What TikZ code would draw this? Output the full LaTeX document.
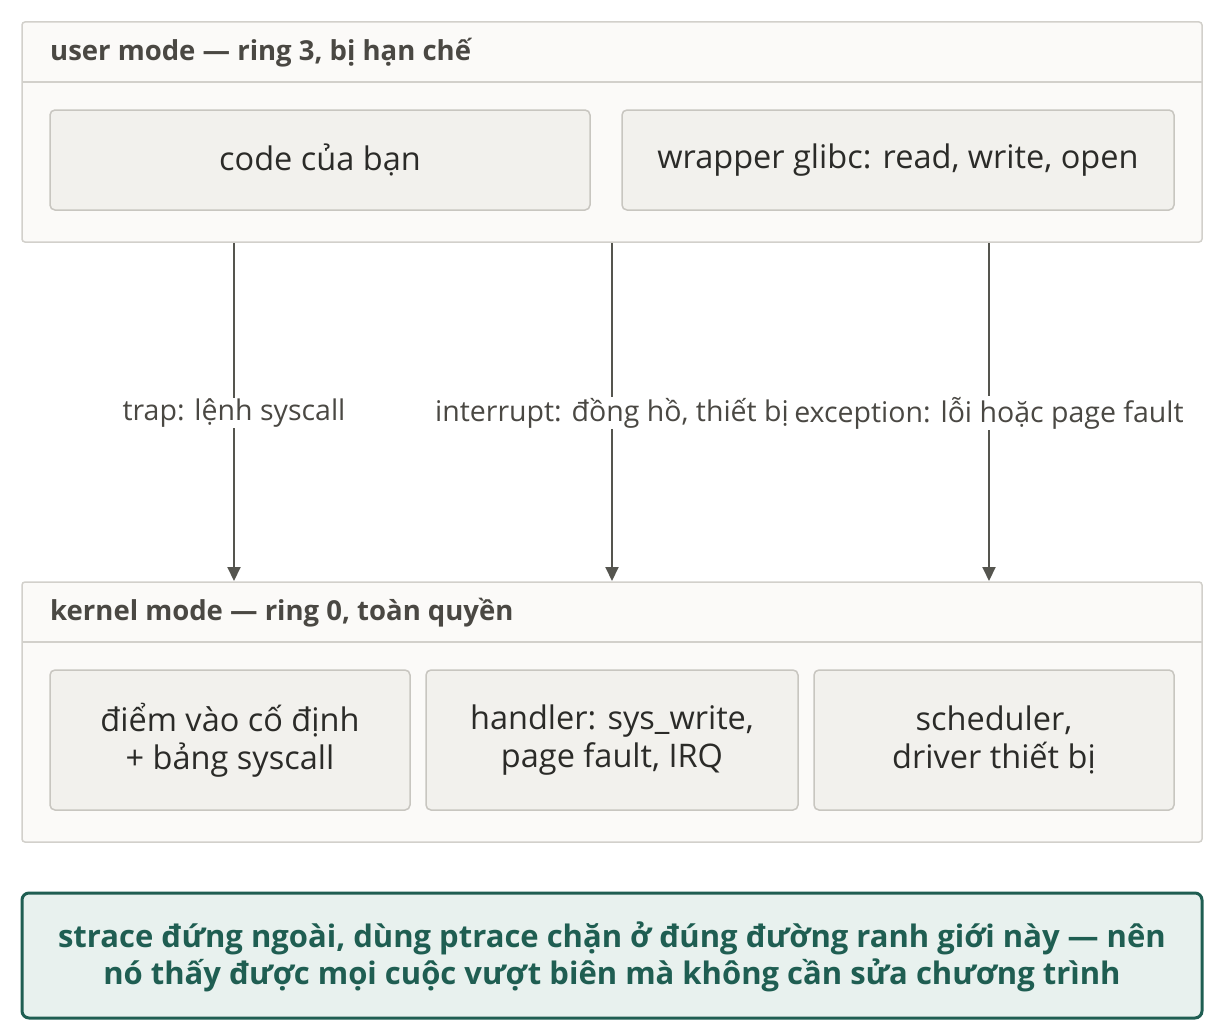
\documentclass[tikz,border=0pt]{standalone}
\usepackage{fontspec}
\setmainfont{Open Sans}
\usetikzlibrary{arrows.meta}
\definecolor{outerfill}{HTML}{FBFAF8}
\definecolor{outerdraw}{HTML}{D2D0CB}
\definecolor{innerfill}{HTML}{F2F1ED}
\definecolor{innerdraw}{HTML}{C8C6C0}
\definecolor{txt}{HTML}{2B2B28}
\definecolor{hdr}{HTML}{4A4843}
\definecolor{arr}{HTML}{55554F}
\definecolor{notefill}{HTML}{E8F1EE}
\definecolor{notedraw}{HTML}{1F5E52}
\begin{document}
\begin{tikzpicture}[x=1pt,y=-1pt,
  outer/.style={draw=outerdraw,fill=outerfill,line width=1.5pt,rounded corners=3pt},
  inner/.style={draw=innerdraw,fill=innerfill,line width=1.5pt,rounded corners=5pt,
    font=\fontsize{32.5}{38}\selectfont,text=txt,align=center},
  big/.style={font=\fontsize{32.5}{38}\selectfont,text=txt},
  hd/.style={font=\fontsize{27.5}{30}\selectfont\bfseries,text=hdr,anchor=west},
  lab/.style={font=\fontsize{28.5}{30}\selectfont,text=hdr,fill=white,inner sep=1pt},
  ar/.style={draw=arr,line width=2pt,-{Triangle[length=14pt,width=13pt]}}]
\useasboundingbox (0,0) rectangle (1216,1033);
\fill[white] (0,0) rectangle (1216,1033);
% user mode
\draw[outer] (22,22) rectangle (1202,242);
\draw[outerdraw,line width=1.5pt] (22,82) -- (1202,82);
\node[hd,inner sep=0pt] (uh) at (50,53) {user mode — ring 3, bị hạn chế};
\draw[inner] (50,110) rectangle (590,210);
\node[big] (u1) at (320,160) {code của bạn};
\draw[inner] (622,110) rectangle (1174,210);
\node[big] (u2) at (898,160) {wrapper glibc: read, write, open};
% kernel mode
\draw[outer] (22,582) rectangle (1202,842);
\draw[outerdraw,line width=1.5pt] (22,642) -- (1202,642);
\node[hd,inner sep=0pt] (kh) at (50,613) {kernel mode — ring 0, toàn quyền};
\node[inner,minimum width=360pt,minimum height=140pt] (k1) at (230,740) {điểm vào cố định\\+ bảng syscall};
\node[inner,minimum width=372pt,minimum height=140pt] (k2) at (612,740) {handler: sys\_write,\\page fault, IRQ};
\node[inner,minimum width=360pt,minimum height=140pt] (k3) at (994,740) {scheduler,\\driver thiết bị};
% arrows
\coordinate (s1) at (234,243); \coordinate (e1) at (234,581);
\coordinate (s2) at (612,243); \coordinate (e2) at (612,581);
\coordinate (s3) at (989,243); \coordinate (e3) at (989,581);
\draw[ar] (s1) -- (e1);
\draw[ar] (s2) -- (e2);
\draw[ar] (s3) -- (e3);
\node[lab] (l1) at (234,413) {trap: lệnh syscall};
\node[lab] (l2) at (612,413) {interrupt: đồng hồ, thiết bị};
\node[lab] (l3) at (989,413) {exception: lỗi hoặc page fault};
% note
\draw[draw=notedraw,fill=notefill,line width=3pt,rounded corners=7pt] (22,893) rectangle (1202,1018);
\node[font=\fontsize{31}{37}\selectfont\bfseries,text=notedraw,align=center] (note) at (612,957)
 {strace đứng ngoài, dùng ptrace chặn ở đúng đường ranh giới này — nên\\nó thấy được mọi cuộc vượt biên mà không cần sửa chương trình};
\end{tikzpicture}
\end{document}
